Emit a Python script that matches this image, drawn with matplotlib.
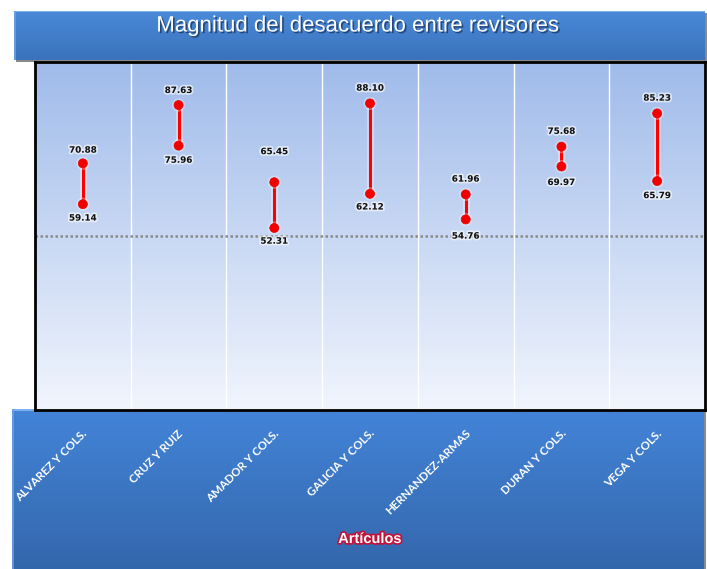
import numpy as np
import matplotlib
matplotlib.use("Agg")
import matplotlib.pyplot as plt
import matplotlib.patheffects as pe
from matplotlib.colors import LinearSegmentedColormap

categories = ["ALVAREZ Y COLS.", "CRUZ Y RUIZ", "AMADOR Y COLS.", "GALICIA Y COLS.",
              "HERNANDEZ-ARMAS", "DURAN Y COLS.", "VEGA Y COLS."]
upper = [70.88, 87.63, 65.45, 88.10, 61.96, 75.68, 85.23]
lower = [59.14, 75.96, 52.31, 62.12, 54.76, 69.97, 65.79]
reference_line = 50
title = "Magnitud del desacuerdo entre revisores"
xlabel = "Artículos"

# label placement (points above upper / below lower marker)
upper_label_offset = [9.5, 10.5, 22, 11, 11, 11, 11]
lower_label_offset = [10, 10.5, 9.5, 9.5, 12, 11.5, 10.5]

W, H = 707, 569
fig = plt.figure(figsize=(W / 100, H / 100), dpi=100)


def fr(x0, y0, x1, y1):
    return [x0 / W, 1 - y1 / H, (x1 - x0) / W, (y1 - y0) / H]


def banner(rect, top, bottom, z):
    sx = fig.add_axes(fr(rect[0] + 2, rect[1] + 2, rect[2] + 2, rect[3] + 2), zorder=z - 0.5)
    sx.set_facecolor("#8a8a8a")
    sx.set_xticks([]); sx.set_yticks([])
    for s in sx.spines.values():
        s.set_visible(False)
    bx = fig.add_axes(fr(*rect), zorder=z)
    cmap = LinearSegmentedColormap.from_list("g", [top, bottom])
    grad = np.linspace(0, 1, 256).reshape(-1, 1)
    bx.imshow(grad, aspect="auto", cmap=cmap, extent=[0, 1, 0, 1], origin="upper")
    bx.set_xlim(0, 1); bx.set_ylim(0, 1)
    bx.axhline(0.995, color="#7fb0ee", lw=1.5)
    bx.axvline(0.002, color="#6aa0e6", lw=1.2)
    bx.set_xticks([]); bx.set_yticks([])
    for s in bx.spines.values():
        s.set_visible(False)
    return bx


# title banner
tb = banner((14, 11, 705, 60), "#4a8ad8", "#3a72bc", 1)
fig.text(358 / W, 1 - 26 / H, title, ha="center", va="center", color="white",
         fontsize=16, family=["Liberation Sans Narrow", "Liberation Sans", "DejaVu Sans"],
         path_effects=[pe.withSimplePatchShadow(offset=(1.2, -1.2), shadow_rgbFace="#1d3a66", alpha=0.8)])

# bottom banner
bb = banner((12, 409, 704, 575), "#4384d8", "#3366aa", 1)

# main plot axes
ax = fig.add_axes(fr(35, 62, 705, 410), zorder=5)
n = len(categories)
x = np.arange(n)
ax.set_xlim(-0.5, n - 0.5)
ax.set_ylim(0, 100)
cmap = LinearSegmentedColormap.from_list("bg", ["#a0bbea", "#f1f5fd"])
grad = np.linspace(0, 1, 256).reshape(-1, 1)
ax.imshow(grad, aspect="auto", cmap=cmap, extent=[-0.5, n - 0.5, 0, 100], origin="upper", zorder=0)
for b in np.arange(0.5, n - 0.5, 1.0):
    ax.axvline(b, color="white", lw=1.0, zorder=1)
ax.axhline(reference_line, color="#8a8a8a", lw=1.8, ls=(0, (1, 1)), zorder=2)

glow = [pe.Stroke(linewidth=5, foreground="white", alpha=0.35), pe.Normal()]
for xi, lo, hi in zip(x, lower, upper):
    ax.plot([xi, xi], [lo, hi], color="#ff0000", lw=2.2, zorder=3,
            solid_capstyle="butt", path_effects=glow)
mglow = [pe.Stroke(linewidth=3, foreground="white", alpha=0.3), pe.Normal()]
ax.plot(x, upper, "o", color="#f00000", ms=6.5, mec="#f00000", mew=0.5, zorder=4, path_effects=mglow)
ax.plot(x, lower, "o", color="#f00000", ms=6.5, mec="#f00000", mew=0.5, zorder=4, path_effects=mglow)

lab_fx = [pe.withStroke(linewidth=2.5, foreground="white", alpha=0.6)]
for xi, lo, hi, uo, lo_off in zip(x, lower, upper, upper_label_offset, lower_label_offset):
    ax.annotate(f"{hi:.2f}", (xi, hi), xytext=(0, uo), textcoords="offset points",
                ha="center", va="center", fontsize=6.3, fontweight="bold", color="#111111",
                path_effects=lab_fx, zorder=6)
    ax.annotate(f"{lo:.2f}", (xi, lo), xytext=(0, -lo_off), textcoords="offset points",
                ha="center", va="center", fontsize=6.3, fontweight="bold", color="#111111",
                path_effects=lab_fx, zorder=6)

ax.set_xticks([]); ax.set_yticks([])
for s in ax.spines.values():
    s.set_color("black")
    s.set_linewidth(2)

# category labels (rotated) below plot
for xi, c in zip(x, categories):
    ax.annotate(c, (xi, 0), xycoords=("data", "axes fraction"), xytext=(2.0, -15.5),
                textcoords="offset points", rotation=45, rotation_mode="anchor",
                ha="right", va="center", fontsize=8.3, color="white", fontweight="bold",
                family=["Lato", "DejaVu Sans"], annotation_clip=False, zorder=7)

fig.text(370 / W, 1 - 539 / H, xlabel, ha="center", va="center", color="white",
         fontsize=10.5, fontweight="bold", family=["Liberation Sans", "DejaVu Sans"],
         path_effects=[pe.withStroke(linewidth=2.5, foreground="#c0143c")], zorder=8)

fig.savefig("out.png", dpi=100)
